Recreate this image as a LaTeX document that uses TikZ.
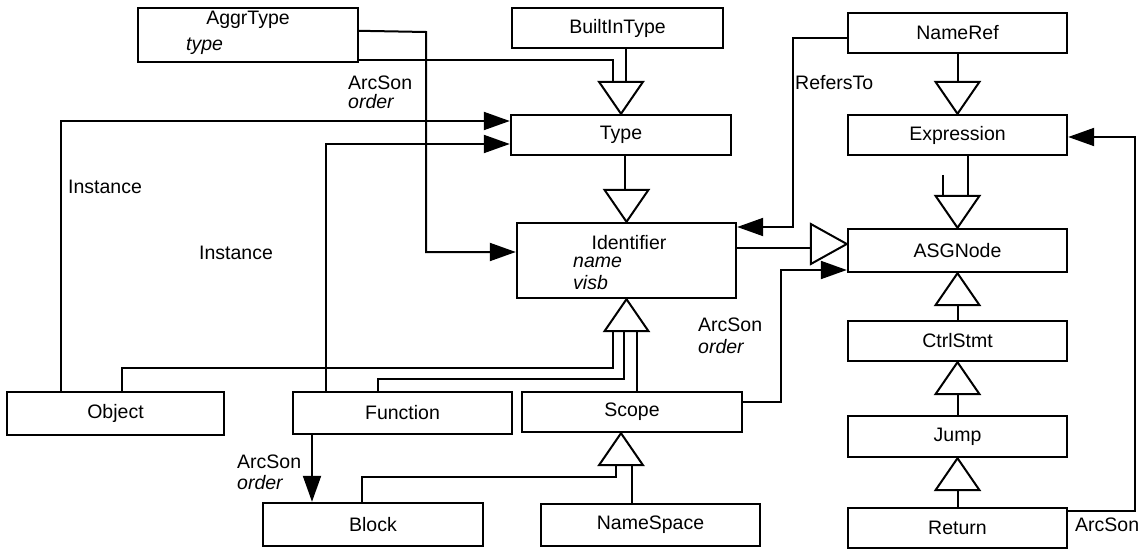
\documentclass[tikz,border=0pt]{standalone}
\usepackage{fontspec}
\setmainfont{Liberation Sans}
\usetikzlibrary{arrows.meta}
\begin{document}
\begin{tikzpicture}[x=1pt,y=-1pt,
  font=\fontsize{19.5}{23}\selectfont,
  box/.style={draw,line width=2.4pt,rectangle,inner sep=0pt,
              minimum width=219pt,minimum height=40pt},
  lbl/.style={inner sep=0pt,anchor=west},
  conn/.style={line width=2pt},
  arr/.style={conn,-{Triangle[length=26pt,width=18pt]}},
  % hollow generalisation triangles (tip at the origin)
  genup/.pic={\draw[line width=2pt,fill=white] (0,0) -- (-22,32) -- (22,32) -- cycle;},
  gendown/.pic={\draw[line width=2pt,fill=white] (0,0) -- (-22,-32) -- (22,-32) -- cycle;},
  genright/.pic={\draw[line width=2pt,fill=white] (0,0) -- (-36,-20) -- (-36,20) -- cycle;}]
\useasboundingbox (0,0) rectangle (1143,556);

% ---- classes ----
\node[box,minimum width=220pt,minimum height=54pt] (aggr) at (248,35) {};
\node (aggrT) at (248,20) {AggrType};
\node[lbl] (aggrA) at (186,46) {\itshape type};
\node[box,minimum width=211pt] (builtin) at (617.5,28) {BuiltInType};
\node[box] (nameref) at (957.5,33) {NameRef};
\node[box,minimum width=220pt] (type) at (621,135) {Type};
\node[box] (expr) at (957.5,135) {Expression};
\node[box,minimum height=75pt] (ident) at (626.5,260.5) {};
\node (identT) at (629,243) {Identifier};
\node[lbl] (identA) at (573,262) {\itshape name};
\node[lbl] (identB) at (573,283) {\itshape visb};
\node[box,minimum height=43pt] (asg) at (957.5,250.5) {ASGNode};
\node[box] (ctrl) at (957.5,341) {CtrlStmt};
\node[box,minimum height=41pt] (jump) at (957.5,436.5) {Jump};
\node[box] (ret) at (957.5,528) {Return};
\node[box,minimum width=217pt,minimum height=43pt] (object) at (115.5,413.5) {Object};
\node[box,minimum height=42pt] (func) at (402.5,413) {Function};
\node[box,minimum width=220pt] (scope) at (632,412) {Scope};
\node[box,minimum width=220pt,minimum height=43pt] (block) at (373,524.5) {Block};
\node[box,minimum height=42pt] (ns) at (650.5,525) {NameSpace};

% ---- associations ----
\draw[arr] ([yshift=-24pt]aggr.north east) -- (426,32) |- ([yshift=8.5pt]ident.west);
\draw[arr] ([xshift=-54.5pt]object.north) |- ([yshift=14pt]type.west);
\draw[arr] ([xshift=-76.5pt]func.north) |- ([yshift=-9pt]type.west);
\draw[arr] ([xshift=-90.5pt]func.south) -- ([xshift=-61pt]block.north);
\draw[arr] ([yshift=10pt]scope.east) -- (781,402) |- ([yshift=-19.5pt]asg.west);
\draw[arr] ([yshift=-5pt]nameref.west) -- (793,38) |- ([yshift=33.5pt]ident.east);
\draw[arr] ([yshift=17pt]ret.east) -- (1135,511) |- ([yshift=-2pt]expr.east);

% ---- inheritance ----
\draw[conn] ([yshift=3pt]aggr.south east) -| (613,83);
\draw[conn] ([xshift=8.5pt]builtin.south) -- (626,83);
\draw[conn] ([xshift=4pt]type.south) -- (625,191);
\draw[conn] ([xshift=6.5pt]object.north) |- (613,368) -- (613,330);
\draw[conn] ([xshift=-24.5pt]func.north) |- (624,379) -- (624,330);
\draw[conn] ([xshift=5pt]scope.north) -- (637,330);
\draw[conn] ([xshift=-11pt]block.north) |- (616,477) -- (616,464);
\draw[conn] ([xshift=-18.5pt]ns.north) -- (632,464);
\draw[conn] ([yshift=12.5pt]ident.east) -- (811.5,248);
\draw[conn] (nameref.south) -- (957.5,83);
\draw[conn] ([xshift=10.5pt]expr.south) -- (968,197);
\coordinate (stub) at (943,175);
\draw[conn] (stub) -- (943,197);
\draw[conn] (ctrl.north) -- (957.5,304);
\draw[conn] (jump.north) -- (957.5,393);
\draw[conn] (ret.north) -- (957.5,489);

\pic (g1) at (type.north) {gendown};
\pic (g2) at (ident.north) {gendown};
\pic (g3) at (ident.south) {genup};
\pic (g4) at (expr.north) {gendown};
\pic (g5) at (asg.north) {gendown};
\pic (g6) at (asg.south) {genup};
\pic (g7) at (ctrl.south) {genup};
\pic (g8) at (jump.south) {genup};
\pic (g9) at ([xshift=-11pt]scope.south) {genup};
\pic (g10) at ([yshift=6.5pt]asg.west) {genright};

% ---- role labels ----
\node[lbl] (lArc1) at (348,83) {ArcSon};
\node[lbl] (lOrd1) at (348,102) {\itshape order};
\node[lbl] (lRef) at (795,83) {RefersTo};
\node[lbl] (lInst1) at (68,187) {Instance};
\node[lbl] (lInst2) at (199,253) {Instance};
\node[lbl] (lArc2) at (698,325) {ArcSon};
\node[lbl] (lOrd2) at (698,347) {\itshape order};
\node[lbl] (lArc3) at (237,462) {ArcSon};
\node[lbl] (lOrd3) at (237,483) {\itshape order};
\node[lbl] (lArc4) at (1075,525) {ArcSon};
\end{tikzpicture}
\end{document}
